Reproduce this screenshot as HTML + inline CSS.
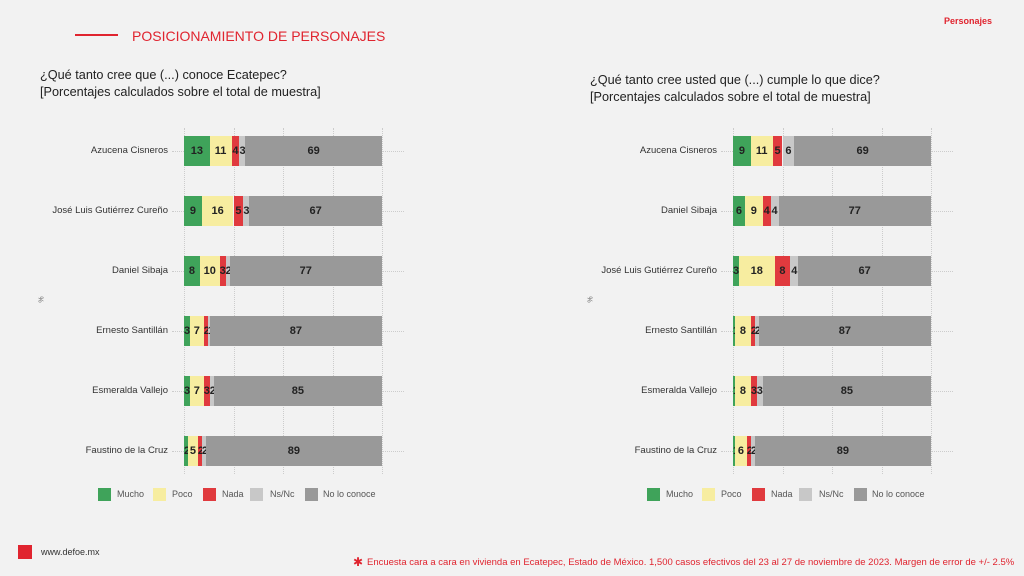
<!DOCTYPE html>
<html><head><meta charset="utf-8"><style>
body{margin:0;width:1024px;height:576px;background:#f2f2f2;position:relative;overflow:hidden;font-family:"Liberation Sans",sans-serif}
.a{position:absolute;white-space:nowrap}
.lbl{font-size:9.5px;color:#333;text-align:right;width:160px}
.seg{position:absolute;top:0;height:30px;font-weight:bold;font-size:11px;color:#222;text-align:center;line-height:30px;overflow:visible}
.leg{font-size:9px;color:#555}
.sq{position:absolute;width:13px;height:13px}
</style></head><body>
<div class="a" style="left:75px;top:34px;width:43px;height:2px;background:#e0242f"></div>
<div class="a" style="left:132px;top:28px;font-size:14px;color:#e0242f">POSICIONAMIENTO DE PERSONAJES</div>
<div class="a" style="left:944px;top:16px;font-size:9px;font-weight:bold;color:#e0242f">Personajes</div>
<div class="a" style="left:40px;top:67px;font-size:12.7px;color:#222;line-height:17px">¿Qué tanto cree que (...) conoce Ecatepec?<br>[Porcentajes calculados sobre el total de muestra]</div>
<div class="a" style="left:590px;top:72px;font-size:12.7px;color:#222;line-height:17px">¿Qué tanto cree usted que (...) cumple lo que dice?<br>[Porcentajes calculados sobre el total de muestra]</div>
<div class="a" style="left:18px;top:545px;width:14px;height:14px;background:#e0242f"></div>
<div class="a" style="left:41px;top:547px;font-size:9px;color:#333">www.defoe.mx</div>
<div class="a" style="left:353px;top:555px;font-size:12px;color:#e0242f">✱</div>
<div class="a" style="left:367px;top:557px;font-size:9.5px;color:#e0242f">Encuesta cara a cara en vivienda en Ecatepec, Estado de México. 1,500 casos efectivos del 23 al 27 de noviembre de 2023. Margen de error de +/- 2.5%</div>
<div id="c"></div>
<script>
const cols=["#3fa35a","#f7eda0","#e03a3e","#c8c8c8","#999999"];
const names=["Mucho","Poco","Nada","Ns/Nc","No lo conoce"];
function chart(x0,data){
 let h='';
 for(let i=0;i<=4;i++){h+=`<div class="a" style="left:${x0+i*49.5}px;top:128px;height:346px;border-left:1px dotted #ccc"></div>`;}
 h+=`<div class="a" style="left:${x0-145}px;top:296px;font-size:7px;color:#666;transform:rotate(-90deg)">%</div>`;
 data.forEach((d,j)=>{
  const y=136+j*60;
  h+=`<div class="a" style="left:${x0-12}px;top:${y+15}px;width:12px;border-top:1px dotted #ccc"></div>`;
  h+=`<div class="a" style="left:${x0+198}px;top:${y+15}px;width:22px;border-top:1px dotted #ccc"></div>`;
  h+=`<div class="a lbl" style="left:${x0-176}px;top:${y+9}px">${d[0]}</div>`;
  const v=d[1],s=v.reduce((a,b)=>a+b,0);let x=0;
  h+=`<div class="a" style="left:${x0}px;top:${y}px;width:198px;height:30px">`;
  v.forEach((n,k)=>{const w=n/s*198;h+=`<div class="seg" style="left:${x}px;width:${w}px;background:${cols[k]}">${n}</div>`;x+=w;});
  h+='</div>';
 });
 const lx=x0-86;const offs=[0,55,105,152,207],to=[19,19,19,20,18];
 names.forEach((n,k)=>{h+=`<div class="sq" style="left:${lx+offs[k]}px;top:488px;background:${cols[k]}"></div><div class="a leg" style="left:${lx+offs[k]+to[k]}px;top:489px">${n}</div>`;});
 return h;
}
document.getElementById('c').innerHTML=chart(184,[["Azucena Cisneros",[13,11,4,3,69]],["José Luis Gutiérrez Cureño",[9,16,5,3,67]],["Daniel Sibaja",[8,10,3,2,77]],["Ernesto Santillán",[3,7,2,1,87]],["Esmeralda Vallejo",[3,7,3,2,85]],["Faustino de la Cruz",[2,5,2,2,89]]])+
chart(733,[["Azucena Cisneros",[9,11,5,6,69]],["Daniel Sibaja",[6,9,4,4,77]],["José Luis Gutiérrez Cureño",[3,18,8,4,67]],["Ernesto Santillán",[1,8,2,2,87]],["Esmeralda Vallejo",[1,8,3,3,85]],["Faustino de la Cruz",[1,6,2,2,89]]]);
</script>
</body></html>
